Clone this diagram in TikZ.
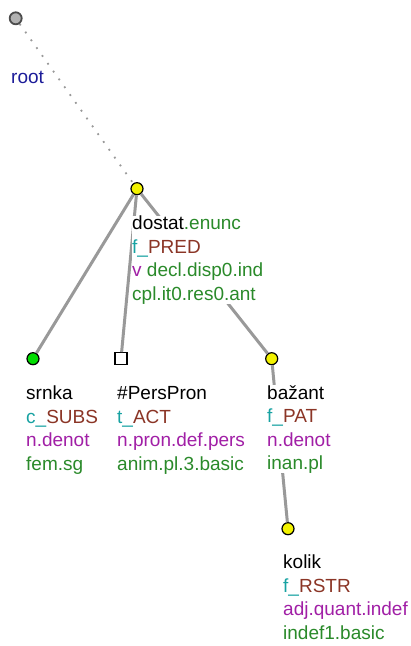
\documentclass[tikz,border=0pt]{standalone}
\usepackage{fontspec}
\setmainfont{Liberation Sans}
\usetikzlibrary{positioning}
\definecolor{rootblue}{HTML}{1C1C99}
\definecolor{functeal}{HTML}{17A2A2}
\definecolor{funcbrown}{HTML}{8B3526}
\definecolor{sempurple}{HTML}{A11FA6}
\definecolor{gramgreen}{HTML}{2A8A2A}
\definecolor{edgegray}{HTML}{999999}
\definecolor{nodeyellow}{HTML}{F2F200}
\definecolor{nodegreen}{HTML}{00DD00}
\tikzset{line width=1pt,
  every node/.style={font=\fontsize{19}{23.5}\selectfont},
  edge/.style={draw=edgegray,line width=3pt},
  rootedge/.style={draw=edgegray,line width=1.8pt,dash pattern=on 1.8pt off 7.8pt},
  tnode/.style={circle,draw=black,line width=1.2pt,fill=nodeyellow,minimum size=12pt,inner sep=0pt},
  subsnode/.style={tnode,fill=nodegreen},
  rootnode/.style={tnode,draw=black!70,line width=1.8pt,fill=black!30},
  gennode/.style={rectangle,draw=black,line width=1.2pt,fill=white,minimum size=12pt,inner sep=0pt},
  tlabel/.style={anchor=base west,align=left,fill=white,inner sep=0pt}}
\newcommand\tfunctor[2]{{\color{functeal}#1\_}{\color{funcbrown}#2}}
\newcommand\tsem[1]{{\color{sempurple}#1}}
\newcommand\tgram[1]{{\color{gramgreen}#1}}

\begin{document}
\begin{tikzpicture}[x=1pt,y=-1pt]
\useasboundingbox (0,0) rectangle (411,646);
% tree nodes
\node[rootnode] (root) at (15.7,18.3) {};
\node[tnode] (dostat) at (137,188.7) {};
\node[subsnode] (srnka) at (33,358.7) {};
\node[gennode] (perspron) at (121,358.7) {};
\node[tnode] (bazant) at (271.7,358.7) {};
\node[tnode] (kolik) at (288,528.7) {};
% edges
\draw[rootedge] (root) -- (dostat);
\draw[edge] (dostat) -- (srnka);
\draw[edge] (dostat) -- (perspron);
\draw[edge] (dostat) -- (bazant);
\draw[edge] (bazant) -- (kolik);
% labels (anchored at the baseline of the last line)
\node[tlabel,text=rootblue] (rootlab) at (11,83) {root};
\node[tlabel] (dostatlab) at (132,300) {dostat\tgram{.enunc}\\\tfunctor{f}{PRED}\\\tsem{v} \tgram{decl.disp0.ind}\\\tgram{cpl.it0.res0.ant}};
\node[tlabel] (srnkalab) at (26,470) {srnka\\\tfunctor{c}{SUBS}\\\tsem{n.denot}\\\tgram{fem.sg}};
\node[tlabel] (persproblab) at (117,470) {\#PersPron\\\tfunctor{t}{ACT}\\\tsem{n.pron.def.pers}\\\tgram{anim.pl.3.basic}};
\node[tlabel] (bazantlab) at (267,469.5) {bažant\\\tfunctor{f}{PAT}\\\tsem{n.denot}\\\tgram{inan.pl}};
\node[tlabel] (koliklab) at (283,639) {kolik\\\tfunctor{f}{RSTR}\\\tsem{adj.quant.indef}\\\tgram{indef1.basic}};
\end{tikzpicture}
\end{document}
